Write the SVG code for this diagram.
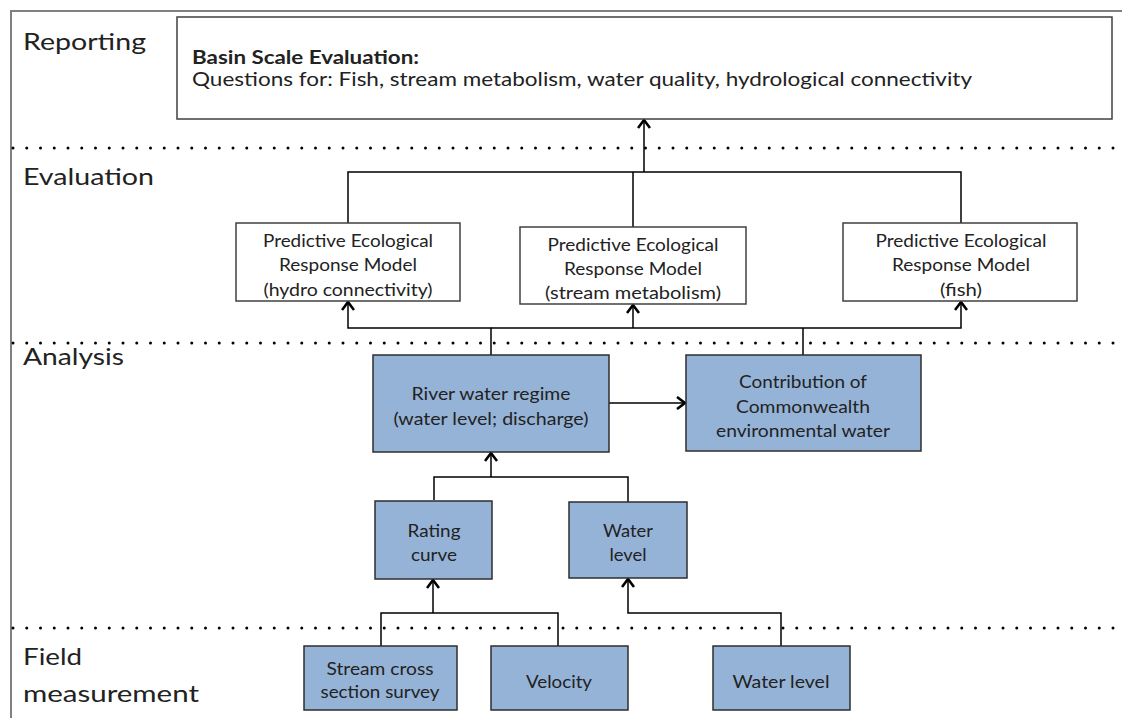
<svg xmlns="http://www.w3.org/2000/svg" width="1122" height="718" viewBox="0 0 1122 718">
<defs>
<style>
text{font-family:Lato,"Liberation Sans",sans-serif;fill:#222}
.lab{font-size:24px}
.t{font-size:17px;text-anchor:middle}
.w{fill:#ffffff;stroke:#404040;stroke-width:1.5}
.b{fill:#95b3d7;stroke:#2e2e2e;stroke-width:1.5}
.c{fill:none;stroke:#000;stroke-width:1.5}
.dot{stroke:#000;stroke-width:3;stroke-linecap:round;stroke-dasharray:0 13.75}
</style>
<marker id="ah" viewBox="0 0 14 14" refX="11.5" refY="7" markerWidth="14" markerHeight="14" markerUnits="userSpaceOnUse" orient="auto">
<path d="M3.5,1 L11.5,7 L3.5,13" fill="none" stroke="#000" stroke-width="2.6"/>
</marker>
</defs>
<rect width="1122" height="718" fill="#fff"/>
<g id="frame">
<path d="M1122,11 H11 V718" fill="none" stroke="#808080" stroke-width="2"/>
<line class="dot" x1="13" y1="148" x2="1122" y2="148"/>
<line class="dot" x1="13" y1="343" x2="1122" y2="343"/>
<line class="dot" x1="13" y1="628" x2="1122" y2="628"/>
<text class="lab" x="23" y="50" textLength="123" lengthAdjust="spacingAndGlyphs">Reporting</text>
<text class="lab" x="23" y="185" textLength="131" lengthAdjust="spacingAndGlyphs">Evaluation</text>
<text class="lab" x="23" y="365" textLength="101" lengthAdjust="spacingAndGlyphs">Analysis</text>
<text class="lab" x="23" y="665" textLength="59" lengthAdjust="spacingAndGlyphs">Field</text>
<text class="lab" x="23" y="702" textLength="176" lengthAdjust="spacingAndGlyphs">measurement</text>
</g>
<g id="connectors">
<path class="c" d="M348,223 V172 H961 V223 M633,172 V227"/>
<path class="c" d="M644,172 V120" marker-end="url(#ah)"/>
<path class="c" d="M491,355 V328 H348 V302" marker-end="url(#ah)"/>
<path class="c" d="M491,328 H961 V302" marker-end="url(#ah)"/>
<path class="c" d="M633,328 V305" marker-end="url(#ah)"/>
<path class="c" d="M803,328 V355"/>
<path class="c" d="M609,403 H685" marker-end="url(#ah)"/>
<path class="c" d="M434,500 V477 H628 V502"/>
<path class="c" d="M491,477 V453" marker-end="url(#ah)"/>
<path class="c" d="M381,646 V613 H558 V646"/>
<path class="c" d="M433,613 V580" stroke-width="3" marker-end="url(#ah)"/>
<path class="c" d="M781,646 V613 H628 V579" marker-end="url(#ah)"/>
</g>
<g id="basin">
<rect class="w" x="177" y="17" width="935" height="102"/>
<text x="192" y="64" font-size="18" font-weight="bold" textLength="227" lengthAdjust="spacingAndGlyphs">Basin Scale Evaluation:</text>
<text x="192" y="86" font-size="19" textLength="780" lengthAdjust="spacingAndGlyphs">Questions for: Fish, stream metabolism, water quality, hydrological connectivity</text>
</g>
<g id="perm-hydro">
<rect class="w" x="236" y="223" width="224" height="78"/>
<text class="t" x="348" y="247" textLength="170" lengthAdjust="spacingAndGlyphs">Predictive Ecological</text>
<text class="t" x="348" y="271" textLength="138" lengthAdjust="spacingAndGlyphs">Response Model</text>
<text class="t" x="348" y="296" textLength="169" lengthAdjust="spacingAndGlyphs">(hydro connectivity)</text>
</g>
<g id="perm-metab">
<rect class="w" x="520" y="227" width="226" height="77"/>
<text class="t" x="633" y="251" textLength="171" lengthAdjust="spacingAndGlyphs">Predictive Ecological</text>
<text class="t" x="633" y="275" textLength="138" lengthAdjust="spacingAndGlyphs">Response Model</text>
<text class="t" x="633" y="299" textLength="176" lengthAdjust="spacingAndGlyphs">(stream metabolism)</text>
</g>
<g id="perm-fish">
<rect class="w" x="843" y="223" width="234" height="78"/>
<text class="t" x="961" y="247" textLength="171" lengthAdjust="spacingAndGlyphs">Predictive Ecological</text>
<text class="t" x="961" y="271" textLength="138" lengthAdjust="spacingAndGlyphs">Response Model</text>
<text class="t" x="961" y="296" textLength="42" lengthAdjust="spacingAndGlyphs">(fish)</text>
</g>
<g id="river">
<rect class="b" x="373" y="355" width="236" height="97"/>
<text class="t" x="491" y="400" textLength="159" lengthAdjust="spacingAndGlyphs">River water regime</text>
<text class="t" x="491" y="425" textLength="195" lengthAdjust="spacingAndGlyphs">(water level; discharge)</text>
</g>
<g id="contribution">
<rect class="b" x="686" y="355" width="235" height="96"/>
<text class="t" x="803" y="388" textLength="128" lengthAdjust="spacingAndGlyphs">Contribution of</text>
<text class="t" x="803" y="413" textLength="134" lengthAdjust="spacingAndGlyphs">Commonwealth</text>
<text class="t" x="803" y="437" textLength="174" lengthAdjust="spacingAndGlyphs">environmental water</text>
</g>
<g id="rating">
<rect class="b" x="375" y="501" width="117" height="78"/>
<text class="t" x="434" y="537" textLength="53" lengthAdjust="spacingAndGlyphs">Rating</text>
<text class="t" x="434" y="561" textLength="46" lengthAdjust="spacingAndGlyphs">curve</text>
</g>
<g id="waterlevel-a">
<rect class="b" x="569" y="502" width="118" height="76"/>
<text class="t" x="628" y="537" textLength="50" lengthAdjust="spacingAndGlyphs">Water</text>
<text class="t" x="628" y="561" textLength="37" lengthAdjust="spacingAndGlyphs">level</text>
</g>
<g id="stream">
<rect class="b" x="304" y="646" width="153" height="64"/>
<text class="t" x="380" y="675" textLength="107" lengthAdjust="spacingAndGlyphs">Stream cross</text>
<text class="t" x="380" y="698" textLength="119" lengthAdjust="spacingAndGlyphs">section survey</text>
</g>
<g id="velocity">
<rect class="b" x="491" y="646" width="137" height="64"/>
<text class="t" x="559" y="688" textLength="66" lengthAdjust="spacingAndGlyphs">Velocity</text>
</g>
<g id="waterlevel-f">
<rect class="b" x="713" y="646" width="137" height="64"/>
<text class="t" x="781" y="688" textLength="97" lengthAdjust="spacingAndGlyphs">Water level</text>
</g>
</svg>
